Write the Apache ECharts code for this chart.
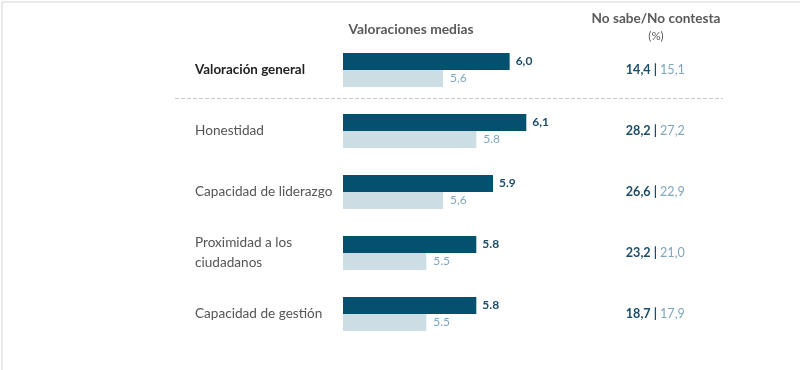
<!DOCTYPE html>
<html><head><meta charset="utf-8">
<script src="https://cdn.jsdelivr.net/npm/echarts@6/dist/echarts.min.js"></script>
<style>html,body{margin:0;padding:0;background:#fff}#c{width:800px;height:370px}</style>
</head><body><div id="c"></div>
<script>
const categories = ['Valoración general', 'Honestidad', 'Capacidad de liderazgo', 'Proximidad a los\nciudadanos', 'Capacidad de gestión'];
const seriesA = [6.0, 6.1, 5.9, 5.8, 5.8];
const seriesB = [5.6, 5.8, 5.6, 5.5, 5.5];
const labelsA = ['6,0', '6,1', '5.9', '5.8', '5.8'];
const labelsB = ['5,6', '5.8', '5,6', '5.5', '5.5'];
const nsncA = ['14,4', '28,2', '26,6', '23,2', '18,7'];
const nsncB = ['15,1', '27,2', '22,9', '21,0', '17,9'];
const headerLeft = 'Valoraciones medias';
const headerRight = 'No sabe/No contesta';
const headerRightSub = '(%)';

const FONT = 'Lato';
const DARK = '#03506f';
const LIGHT = '#cddde4';
const DARK_TXT = '#1c4d6b';
const LIGHT_TXT = '#7fa6c0';

const chart = echarts.init(document.getElementById('c'));
chart.setOption({
  backgroundColor: '#fff',
  animation: false,
  grid: { left: 343, top: 39.5, height: 305, width: 333.3 },
  xAxis: { type: 'value', min: 5, max: 7, show: false },
  yAxis: [
    {
      type: 'category', data: categories, inverse: true,
      axisLine: { show: false }, axisTick: { show: false }, splitLine: { show: false },
      axisLabel: {
        align: 'left', margin: 148, fontFamily: FONT, fontSize: 13.6, color: '#555', lineHeight: 20,
        formatter: (v, i) => i === 0 ? '{b|' + v + '}' : v,
        rich: { b: { fontFamily: FONT, fontWeight: 'bold', color: '#222', fontSize: 13.4 } }
      }
    },
    {
      type: 'category', data: categories, inverse: true, position: 'right', offset: -21,
      axisLine: { show: false }, axisTick: { show: false }, splitLine: { show: false },
      axisLabel: {
        align: 'center', margin: 0,
        formatter: (v, i) => '{a|' + nsncA[i] + '}{s| | }{c|' + nsncB[i] + '}',
        rich: {
          a: { fontFamily: FONT, fontWeight: 'bold', fontSize: 12.6, color: DARK_TXT },
          s: { fontFamily: FONT, fontWeight: 'bold', fontSize: 12.6, color: DARK_TXT },
          c: { fontFamily: FONT, fontSize: 12.6, color: LIGHT_TXT }
        }
      }
    }
  ],
  series: [
    {
      type: 'bar', data: seriesA, barWidth: 17, barGap: '0%', yAxisIndex: 0,
      itemStyle: { color: DARK },
      label: { show: true, position: 'right', distance: 6, formatter: p => labelsA[p.dataIndex],
        fontFamily: FONT, fontWeight: 'bold', fontSize: 12, color: DARK_TXT }
    },
    {
      type: 'bar', data: seriesB, barWidth: 17, barGap: '0%', yAxisIndex: 0,
      itemStyle: { color: LIGHT },
      label: { show: true, position: 'right', distance: 7, formatter: p => labelsB[p.dataIndex],
        fontFamily: FONT, fontSize: 12, color: LIGHT_TXT }
    }
  ],
  graphic: [
    { type: 'line', shape: { x1: 2, y1: 2, x2: 800, y2: 2 }, style: { stroke: '#e2e2e2', lineWidth: 1.5 } },
    { type: 'line', shape: { x1: 2, y1: 2, x2: 2, y2: 370 }, style: { stroke: '#e2e2e2', lineWidth: 1.5 } },
    { type: 'line', shape: { x1: 175, y1: 98.5, x2: 723, y2: 98.5 }, style: { stroke: '#c8c8c8', lineWidth: 1, lineDash: [4, 2] } },
    { type: 'text', x: 411, y: 30, style: { text: headerLeft, align: 'center', verticalAlign: 'middle', fontFamily: FONT, fontSize: 13.8, fontWeight: 'bold', fill: '#5a5a5a' } },
    { type: 'text', x: 656, y: 19, style: { text: headerRight, align: 'center', verticalAlign: 'middle', fontFamily: FONT, fontSize: 13.6, fontWeight: 'bold', fill: '#5a5a5a' } },
    { type: 'text', x: 656, y: 36, style: { text: headerRightSub, align: 'center', verticalAlign: 'middle', fontFamily: FONT, fontSize: 11.5, fill: '#5a5a5a' } }
  ]
});
</script>
</body></html>
